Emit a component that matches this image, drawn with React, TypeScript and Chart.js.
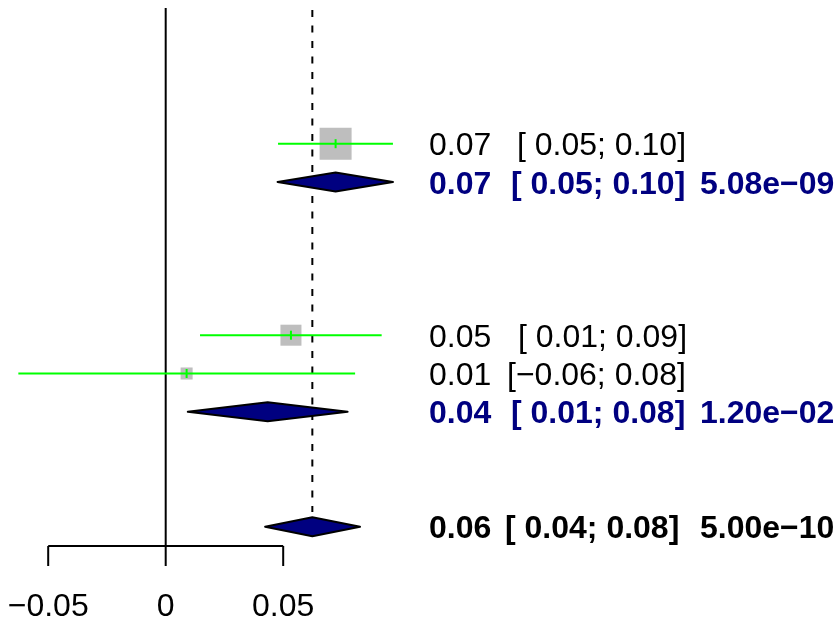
import React, { useEffect, useRef } from "react";
import { Chart, registerables } from "chart.js";

Chart.register(...registerables);

// ---- data ----
const studyEst = [0.0723, 0.0533, 0.0089];
const studyLo = [0.0478, 0.0146, -0.0627];
const studyHi = [0.0967, 0.0919, 0.0806];
const studyRow = [0, 5, 6];
const studyWeight = [63.6, 27.4, 9.0];

const diamondEst = [0.0723, 0.0434, 0.0624];
const diamondLo = [0.0476, 0.0094, 0.0423];
const diamondHi = [0.0967, 0.0774, 0.0827];
const diamondRow = [1, 7, 10];

const refValue = 0.0624;

const textRows = [0, 1, 5, 6, 7, 10];
const textKind = ["study", "subgroup", "study", "study", "subgroup", "overall"];
const estLabels = ["0.07", "0.07", "0.05", "0.01", "0.04", "0.06"];
const ciLabels = [
  "[ 0.05; 0.10]",
  "[ 0.05; 0.10]",
  "[ 0.01; 0.09]",
  "[\u22120.06; 0.08]",
  "[ 0.01; 0.08]",
  "[ 0.04; 0.08]",
];
const pLabels = ["", "5.08e\u221209", "", "", "1.20e\u221202", "5.00e\u221210"];

const xTicks = [-0.05, 0, 0.05];
const xTickLabels = ["\u22120.05", "0", "0.05"];

// ---- layout ----
const W = 837;
const H = 619;
const X_MIN = -0.07051;
const X_MAX = 0.28566;
const Y_MIN = -3.752;
const Y_MAX = 12.41;
const FONT = '"Liberation Sans", Arial, Helvetica, sans-serif';
const FS = 32;
const estX = 429;
const ciX = [517, 511, 518, 507, 511, 505];
const pX = 700;
const topY = 8;
const axisY = 546;
const tickLen = 20;
const dashEndY = 512;
const diamondHalf = 9.5;
const maxSquare = 32;

const NAVY = "#000080";

const forestPlugin = {
  id: "forestExtras",
  beforeDatasetsDraw(chart: any) {
    const ctx = chart.ctx;
    const xs = chart.scales.x;
    ctx.save();
    ctx.strokeStyle = "#000";
    ctx.lineWidth = 2;
    ctx.beginPath();
    const x0 = xs.getPixelForValue(0);
    ctx.moveTo(x0, topY);
    ctx.lineTo(x0, axisY);
    ctx.stroke();
    ctx.setLineDash([7, 8.5]);
    ctx.beginPath();
    const xr = xs.getPixelForValue(refValue);
    ctx.moveTo(xr, topY + 2);
    ctx.lineTo(xr, dashEndY);
    ctx.stroke();
    ctx.setLineDash([]);
    const xa = xs.getPixelForValue(xTicks[0]);
    const xb = xs.getPixelForValue(xTicks[xTicks.length - 1]);
    ctx.beginPath();
    ctx.moveTo(xa, axisY);
    ctx.lineTo(xb, axisY);
    for (const t of xTicks) {
      const px = xs.getPixelForValue(t);
      ctx.moveTo(px, axisY);
      ctx.lineTo(px, axisY + tickLen);
    }
    ctx.stroke();
    ctx.fillStyle = "#000";
    ctx.font = `${FS}px ${FONT}`;
    ctx.textAlign = "center";
    ctx.textBaseline = "alphabetic";
    xTicks.forEach((t, i) => {
      ctx.fillText(xTickLabels[i], xs.getPixelForValue(t), 615.5);
    });
    ctx.restore();
  },
  afterDatasetsDraw(chart: any) {
    const ctx = chart.ctx;
    const xs = chart.scales.x;
    const ys = chart.scales.y;
    ctx.save();
    diamondEst.forEach((est, i) => {
      const y = ys.getPixelForValue(diamondRow[i]);
      const lo = xs.getPixelForValue(diamondLo[i]);
      const hi = xs.getPixelForValue(diamondHi[i]);
      const m = xs.getPixelForValue(est);
      ctx.beginPath();
      ctx.moveTo(lo, y);
      ctx.lineTo(m, y - diamondHalf);
      ctx.lineTo(hi, y);
      ctx.lineTo(m, y + diamondHalf);
      ctx.closePath();
      ctx.fillStyle = NAVY;
      ctx.fill();
      ctx.lineWidth = 2;
      ctx.lineJoin = "round";
      ctx.strokeStyle = "#000";
      ctx.stroke();
    });
    ctx.textAlign = "left";
    ctx.textBaseline = "alphabetic";
    textRows.forEach((r, i) => {
      const y = ys.getPixelForValue(r) + 11.5;
      const kind = textKind[i];
      ctx.font = `${kind === "study" ? "" : "bold "}${FS}px ${FONT}`;
      ctx.fillStyle = kind === "subgroup" ? NAVY : "#000";
      ctx.fillText(estLabels[i], estX, y);
      ctx.fillText(ciLabels[i], ciX[i], y);
      if (pLabels[i]) ctx.fillText(pLabels[i], pX, y);
    });
    ctx.restore();
  },
};

export default function App() {
  const ref = useRef<HTMLCanvasElement | null>(null);
  useEffect(() => {
    document.body.style.margin = "0";
    const canvas = ref.current;
    if (!canvas) return;
    const squares = studyEst.map((e, i) => ({ x: e, y: studyRow[i] }));
    const radii = studyWeight.map(
      (w) => (maxSquare * Math.sqrt(w / Math.max(...studyWeight))) / Math.SQRT2
    );
    const ciSets = studyEst.map((_, i) => ({
      type: "line" as const,
      data: [
        { x: studyLo[i], y: studyRow[i] },
        { x: studyHi[i], y: studyRow[i] },
      ],
      borderColor: "#00FF00",
      borderWidth: 2,
      pointRadius: 0,
      showLine: true,
      fill: false,
      order: 2,
    }));
    const chart = new Chart(canvas, {
      type: "scatter",
      data: {
        datasets: [
          {
            data: squares,
            pointStyle: "rect",
            pointRadius: radii,
            backgroundColor: "#BEBEBE",
            borderWidth: 0,
            order: 3,
          } as any,
          ...ciSets,
          {
            data: squares,
            pointStyle: "line",
            rotation: 90,
            pointRadius: 4.5,
            borderColor: "#00FF00",
            borderWidth: 2,
            order: 1,
          } as any,
        ],
      },
      options: {
        animation: false,
        responsive: false,
        devicePixelRatio: 1,
        layout: { padding: 0, autoPadding: false },
        events: [],
        scales: {
          x: { type: "linear", min: X_MIN, max: X_MAX, display: false },
          y: { type: "linear", min: Y_MIN, max: Y_MAX, reverse: true, display: false },
        },
        plugins: { legend: { display: false }, tooltip: { enabled: false } },
      },
      plugins: [forestPlugin],
    });
    return () => chart.destroy();
  }, []);
  return (
    <div style={{ position: "absolute", left: 0, top: 0, width: W, height: H, background: "#fff" }}>
      <canvas ref={ref} width={W} height={H} style={{ width: W, height: H }} />
    </div>
  );
}
